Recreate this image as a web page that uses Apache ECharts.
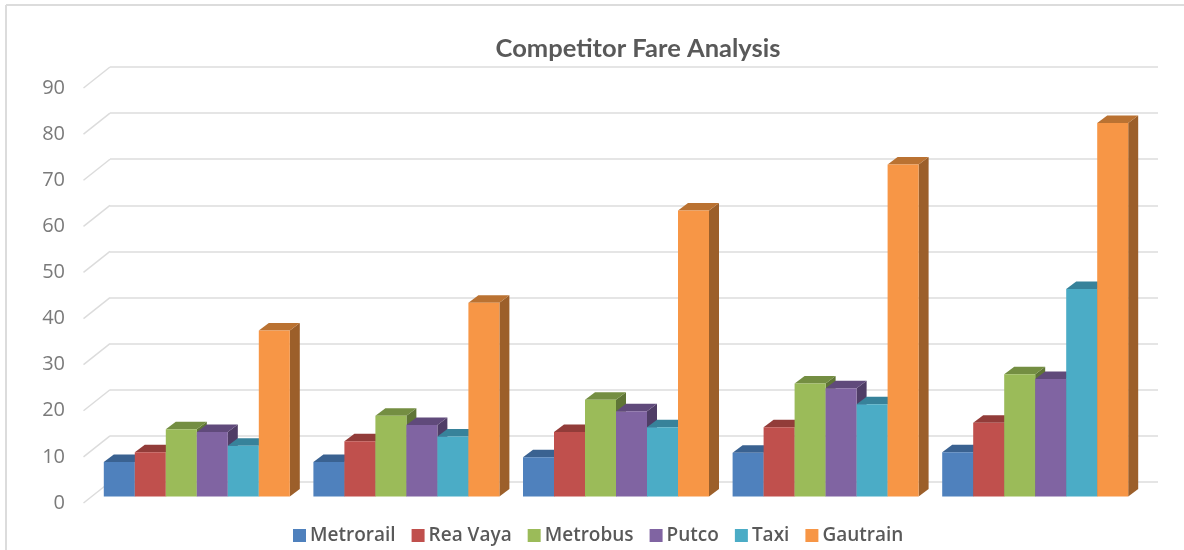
<!DOCTYPE html>
<html lang="en">
  <head>
    <meta charset="UTF-8" />
    <title>Competitor Fare Analysis</title>
    <script src="https://cdn.jsdelivr.net/npm/echarts@6/dist/echarts.min.js"></script>
    <style>
      html, body { margin: 0; padding: 0; background: #fff; }
    </style>
  </head>
  <body>
    <div id="main" style="width: 1184px; height: 550px"></div>
    <script type="text/javascript">
      // fare bands have no labels in the original, so they stay as plain ids
      const categories = ["1", "2", "3", "4", "5"];
      const seriesNames = ["Metrorail", "Rea Vaya", "Metrobus", "Putco", "Taxi", "Gautrain"];
      const metrorail = [7.5, 7.5, 8.5, 9.5, 9.6];
      const reaVaya = [9.6, 12, 14, 15, 16];
      const metrobus = [14.6, 17.5, 21, 24.5, 26.5];
      const putco = [14, 15.5, 18.5, 23.5, 25.5];
      const taxi = [11, 13, 15, 20, 45];
      const gautrain = [36, 42, 62, 72, 81];
      const yTicks = [0, 10, 20, 30, 40, 50, 60, 70, 80, 90];

      const allValues = [metrorail, reaVaya, metrobus, putco, taxi, gautrain];
      const colors = ["#4F81BD", "#C0504D", "#9BBB59", "#8064A2", "#4BACC6", "#F79646"];
      const topColors = ["#3A6291", "#923C39", "#748E42", "#604A7B", "#37829A", "#BA7232"];
      const sideColors = ["#2F5078", "#773130", "#5F7536", "#4F3D66", "#2D6B7F", "#9C5F2A"];

      // the fake 3D: how far the front plane sits from the back wall
      const wallShift = { x: -18, y: 14.5 };
      const axisShift = { x: -26.5, y: 21 };
      const depth = { x: 10, y: -7.5 };
      const barWidth = 31;

      function poly(points, fill) {
        return { type: "polygon", shape: { points: points }, style: { fill: fill } };
      }

      function barSeries(name, idx) {
        return {
          name: name,
          type: "custom",
          itemStyle: { color: colors[idx] },
          encode: { x: 0, y: 1 },
          data: allValues[idx].map((v, i) => [categories[i], v]),
          renderItem: function (params, api) {
            const top = api.coord([api.value(0), api.value(1)]);
            const base = api.coord([api.value(0), 0]);
            const x0 = top[0] + wallShift.x + (idx - 3) * barWidth;
            const x1 = x0 + barWidth;
            const y0 = top[1] + wallShift.y;
            const y1 = base[1] + wallShift.y;
            return {
              type: "group",
              children: [
                poly([[x1, y0], [x1 + depth.x, y0 + depth.y], [x1 + depth.x, y1 + depth.y], [x1, y1]], sideColors[idx]),
                poly([[x0, y0], [x0 + depth.x, y0 + depth.y], [x1 + depth.x, y0 + depth.y], [x1, y0]], topColors[idx]),
                poly([[x0, y0], [x1, y0], [x1, y1], [x0, y1]], colors[idx]),
              ],
            };
          },
        };
      }

      // short diagonal from each wall gridline down to its tick label
      const wallEdges = {
        type: "custom",
        silent: true,
        legendHoverLink: false,
        data: yTicks.map((v) => [categories[0], v]),
        encode: { x: 0, y: 1 },
        z: 1,
        renderItem: function (params, api) {
          const p = api.coord([categories[0], api.value(1)]);
          const left = p[0] - api.size([1, 0])[0] / 2;
          return {
            type: "line",
            shape: { x1: left, y1: p[1], x2: left + axisShift.x, y2: p[1] + axisShift.y },
            style: { stroke: "#DCDCDC", lineWidth: 1.5 },
          };
        },
      };

      let options = {
        animation: false,
        title: {
          text: "Competitor Fare Analysis",
          left: 633,
          top: 31,
          textAlign: "center",
          textStyle: { fontFamily: "Lato", fontWeight: "bold", fontSize: 25.5, color: "#595959" },
        },
        legend: {
          left: 288,
          top: 521,
          icon: "rect",
          itemWidth: 13,
          itemHeight: 13,
          itemGap: 16,
          data: seriesNames,
          selectedMode: false,
          textStyle: { fontFamily: "Open Sans", fontSize: 19, fontWeight: 600, color: "#595959", padding: [0, 0, 0, -1] },
        },
        // grid 0 is the back wall, grid 1 the front plane that carries the labels
        grid: [
          { left: 110, right: 26, top: 67, bottom: 68 },
          { left: 83.5, right: 52.5, top: 88, bottom: 47 },
        ],
        xAxis: [
          {
            type: "category",
            data: categories,
            axisLine: { show: false },
            axisTick: { show: false },
            axisLabel: { show: false },
            splitLine: { show: false },
          },
          { type: "category", gridIndex: 1, data: categories, show: false },
        ],
        yAxis: [
          {
            type: "value",
            min: 0,
            max: 90,
            interval: 10,
            axisLine: { show: false },
            axisTick: { show: false },
            axisLabel: { show: false },
            splitLine: { lineStyle: { color: "#DCDCDC", width: 1.5 } },
          },
          {
            type: "value",
            gridIndex: 1,
            min: 0,
            max: 90,
            interval: 10,
            axisLine: { show: false },
            axisTick: { show: false },
            splitLine: { show: false },
            axisLabel: {
              margin: 18.5,
              fontFamily: "Open Sans",
              fontSize: 20,
              color: "#7A7A7A",
            },
          },
        ],
        graphic: [
          { type: "line", shape: { x1: 6, y1: 5, x2: 1184, y2: 5 }, style: { stroke: "#DCDCDC", lineWidth: 2 } },
          { type: "line", shape: { x1: 6, y1: 5, x2: 6, y2: 550 }, style: { stroke: "#DCDCDC", lineWidth: 2 } },
        ],
        series: [wallEdges].concat(seriesNames.map(barSeries)),
      };

      let myChart = echarts.init(document.getElementById("main"));
      myChart.setOption(options);
    </script>
  </body>
</html>
